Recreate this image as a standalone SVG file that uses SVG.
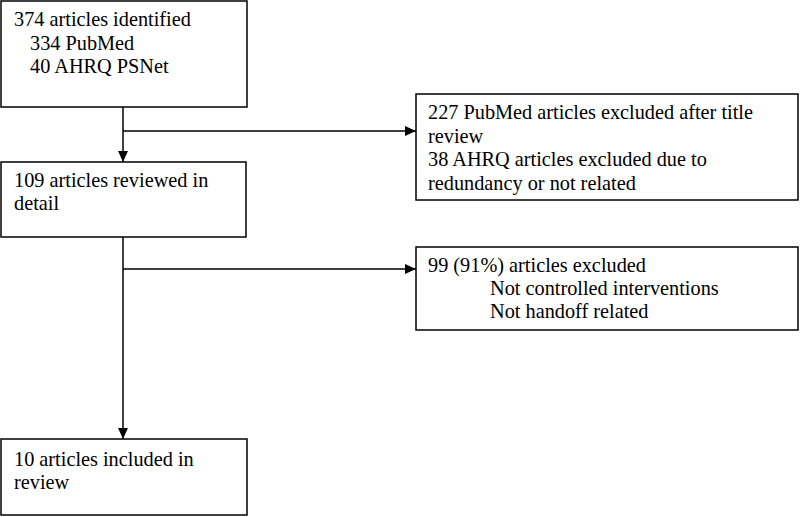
<svg xmlns="http://www.w3.org/2000/svg" width="800" height="517" viewBox="0 0 800 517">
<style>
.box{fill:#fff;stroke:#000;stroke-width:1.5}
.t{font-family:"Liberation Serif","Times New Roman",serif;font-size:20.3px;fill:#000}
.c{stroke:#000;stroke-width:1.5;fill:none}
</style>
<defs>
<marker id="ah" viewBox="0 0 10 10" refX="10" refY="5" markerWidth="11" markerHeight="11" markerUnits="userSpaceOnUse" orient="auto">
<path d="M0,0.5 L10,5 L0,9.5 Z" fill="#000"/>
</marker>
</defs>
<rect width="800" height="517" fill="#fff"/>
<g id="connectors">
<line class="c" x1="123" y1="107" x2="123" y2="162" marker-end="url(#ah)"/>
<line class="c" x1="123" y1="131" x2="416" y2="131" marker-end="url(#ah)"/>
<line class="c" x1="123" y1="237" x2="123" y2="439" marker-end="url(#ah)"/>
<line class="c" x1="123" y1="269" x2="416" y2="269" marker-end="url(#ah)"/>
</g>
<g id="n1">
<rect class="box" x="1" y="1" width="246" height="106"/>
<text class="t" x="14" y="26">374 articles identified</text>
<text class="t" x="30" y="50">334 PubMed</text>
<text class="t" x="30" y="73">40 AHRQ PSNet</text>
</g>
<g id="n2">
<rect class="box" x="416" y="94" width="382" height="106"/>
<text class="t" x="428" y="119">227 PubMed articles excluded after title</text>
<text class="t" x="428" y="143">review</text>
<text class="t" x="428" y="166">38 AHRQ articles excluded due to</text>
<text class="t" x="428" y="190">redundancy or not related</text>
</g>
<g id="n3">
<rect class="box" x="1" y="162" width="245" height="75"/>
<text class="t" x="14" y="187">109 articles reviewed in</text>
<text class="t" x="14" y="210">detail</text>
</g>
<g id="n4">
<rect class="box" x="416" y="247" width="382" height="83"/>
<text class="t" x="428" y="272">99 (91%) articles excluded</text>
<text class="t" x="490" y="295">Not controlled interventions</text>
<text class="t" x="490" y="318">Not handoff related</text>
</g>
<g id="n5">
<rect class="box" x="1" y="439" width="246" height="76"/>
<text class="t" x="14" y="466">10 articles included in</text>
<text class="t" x="14" y="489">review</text>
</g>
</svg>
